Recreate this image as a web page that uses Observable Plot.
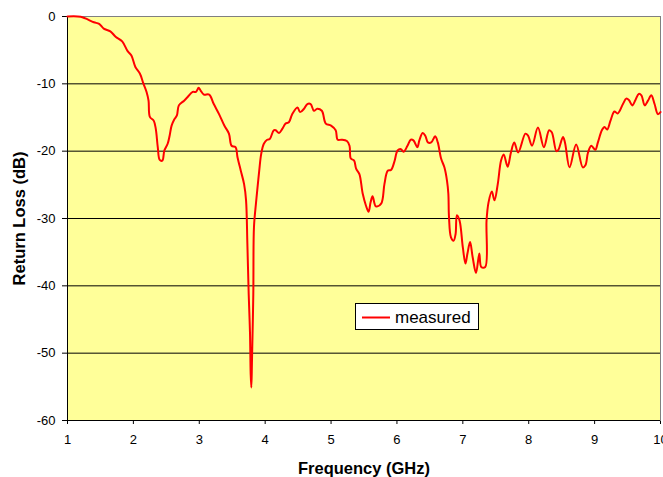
<!DOCTYPE html>
<html>
<head>
<meta charset="utf-8">
<script src="https://cdn.jsdelivr.net/npm/d3@7"></script>
<script src="https://cdn.jsdelivr.net/npm/@observablehq/plot@0.6"></script>
<style>
  body { margin: 0; background: #fff; }
  #chart { position: relative; width: 663px; height: 477px; }
  #chart svg [aria-label="x-axis label"] text,
  #chart svg [aria-label="y-axis label"] text,
  #chart svg [aria-label="x-axis label"],
  #chart svg [aria-label="y-axis label"] { font-weight: bold; font-size: 16.5px; }
</style>
</head>
<body>
<div id="chart"></div>
<script>
// Frequency (GHz)
const freq = [
  1.00,1.20,1.40,1.48,1.55,1.65,1.73,1.83,1.91,1.97,
  2.03,2.10,2.15,2.20,2.23,2.25,2.31,2.34,2.37,2.40,
  2.44,2.47,2.52,2.55,2.58,2.62,2.66,2.69,2.77,2.82,
  2.90,2.95,2.99,3.02,3.07,3.15,3.22,3.30,3.38,3.45,
  3.49,3.55,3.58,3.63,3.68,3.71,3.73,3.75,3.77,3.78,
  3.79,3.80,3.82,3.83,3.86,3.88,3.91,3.94,3.98,4.03,
  4.07,4.13,4.16,4.21,4.26,4.31,4.36,4.41,4.49,4.53,
  4.59,4.64,4.69,4.74,4.79,4.86,4.92,5.00,5.07,5.10,
  5.16,5.24,5.28,5.30,5.35,5.38,5.43,5.48,5.53,5.57,
  5.60,5.63,5.68,5.76,5.81,5.86,5.91,5.96,6.01,6.06,
  6.10,6.16,6.21,6.25,6.31,6.34,6.39,6.43,6.47,6.52,
  6.58,6.62,6.67,6.72,6.76,6.78,6.79,6.82,6.86,6.89,
  6.91,6.95,7.00,7.04,7.07,7.11,7.15,7.20,7.25,7.28,
  7.34,7.36,7.39,7.44,7.48,7.53,7.58,7.62,7.68,7.73,
  7.78,7.84,7.95,7.99,8.05,8.14,8.23,8.31,8.35,8.42,
  8.45,8.52,8.55,8.62,8.72,8.82,8.86,8.90,8.95,9.01,
  9.05,9.11,9.15,9.19,9.24,9.30,9.35,9.43,9.48,9.52,
  9.57,9.62,9.67,9.71,9.76,9.81,9.86,9.91,9.96,10.00
];
// Return loss (dB), series "measured"
const returnLoss = [
  0,-0.05,-0.85,-1.1,-1.8,-2.2,-3.0,-3.7,-5.1,-5.8,
  -7.5,-8.5,-9.9,-11.2,-12.5,-14.9,-15.5,-16.7,-19.4,-21.3,
  -21.4,-19.9,-18.9,-17.7,-16.2,-15.3,-14.7,-13.2,-12.5,-12.0,
  -11.2,-11.2,-10.6,-11.0,-11.6,-11.6,-13.0,-14.5,-16.2,-17.4,
  -19.2,-19.4,-20.9,-22.9,-24.9,-27.3,-33.8,-41.2,-47.1,-53.1,
  -55.1,-51.1,-41.2,-31.3,-27.8,-25.8,-22.9,-20.4,-18.9,-18.3,
  -18.2,-16.9,-16.9,-17.3,-16.7,-15.9,-15.7,-14.5,-13.5,-14.2,
  -13.7,-13.0,-13.0,-14.0,-13.7,-14.0,-15.9,-16.2,-16.9,-18.3,
  -18.3,-18.5,-19.2,-21.1,-21.4,-22.6,-23.4,-26.3,-28.1,-29.0,
  -27.6,-26.7,-28.2,-27.8,-24.9,-22.9,-22.8,-21.6,-19.9,-19.7,
  -20.1,-19.2,-18.3,-18.4,-19.4,-18.4,-17.3,-17.7,-18.7,-18.7,
  -17.8,-18.7,-21.1,-22.4,-24.4,-26.3,-29.8,-32.8,-33.3,-32.3,
  -29.5,-30.3,-34.3,-36.7,-35.2,-33.5,-35.8,-38.1,-35.2,-37.2,
  -37.2,-30.3,-27.6,-26.0,-27.3,-24.9,-21.4,-20.5,-22.3,-20.2,
  -18.7,-20.2,-17.4,-17.7,-19.2,-16.5,-19.4,-16.9,-17.2,-20.0,
  -19.8,-17.9,-18.7,-22.4,-19.0,-22.4,-22.1,-20.2,-19.2,-19.8,
  -18.7,-16.9,-16.4,-16.8,-15.5,-14.1,-14.4,-13.0,-12.2,-12.4,
  -13.2,-12.4,-11.5,-11.7,-13.2,-12.5,-11.7,-13.0,-14.5,-14.2
];
const xTicks = [1, 2, 3, 4, 5, 6, 7, 8, 9, 10];
const yTicks = [0, -10, -20, -30, -40, -50, -60];
const gridValues = [-10, -20, -30, -40, -50];
const seriesName = "measured";
const xTitle = "Frequency (GHz)";
const yTitle = "Return Loss (dB)";

const data = freq.map((f, i) => ({f, rl: returnLoss[i]}));

const chart = Plot.plot({
  width: 663,
  height: 477,
  marginLeft: 67,
  marginRight: 3,
  marginTop: 16,
  marginBottom: 57,
  style: {
    fontFamily: "'Liberation Sans', Arial, sans-serif",
    fontSize: "13px",
    color: "#000",
    background: "#fff",
    overflow: "visible"
  },
  x: {
    domain: [1, 10],
    ticks: xTicks,
    tickFormat: d => String(d),
    tickSize: 4,
    tickPadding: 10,
    label: xTitle,
    labelAnchor: "center",
    labelOffset: 53,
    labelArrow: "none"
  },
  y: {
    domain: [-60, 0],
    ticks: yTicks,
    tickFormat: d => String(d),
    tickSize: 5,
    tickPadding: 7,
    label: yTitle,
    labelAnchor: "center",
    labelOffset: 54,
    labelArrow: "none"
  },
  marks: [
    Plot.frame({fill: "#FFFF99", stroke: "#808080"}),
    Plot.ruleY(gridValues, {stroke: "#000", strokeWidth: 1}),
    Plot.ruleX([1], {stroke: "#000"}),
    Plot.ruleY([-60], {stroke: "#000"}),
    Plot.lineY(data, {x: "f", y: "rl", stroke: "#FF0000", strokeWidth: 2, curve: "catmull-rom"})
  ]
});

document.getElementById("chart").appendChild(chart);

// legend inside plot area
const svg = d3.select(chart);
const lg = svg.append("g").attr("aria-label", "legend");
lg.append("rect").attr("x", 355.5).attr("y", 303.5).attr("width", 123).attr("height", 26)
  .attr("fill", "#fff").attr("stroke", "#000");
lg.append("line").attr("x1", 362).attr("x2", 390).attr("y1", 317.5).attr("y2", 317.5)
  .attr("stroke", "#FF0000").attr("stroke-width", 2);
lg.append("text").attr("x", 395).attr("y", 323).text(seriesName)
  .attr("text-anchor", "start")
  .attr("font-family", "'Liberation Sans', Arial, sans-serif").attr("font-size", "17px").attr("fill", "#000");
</script>
</body>
</html>
